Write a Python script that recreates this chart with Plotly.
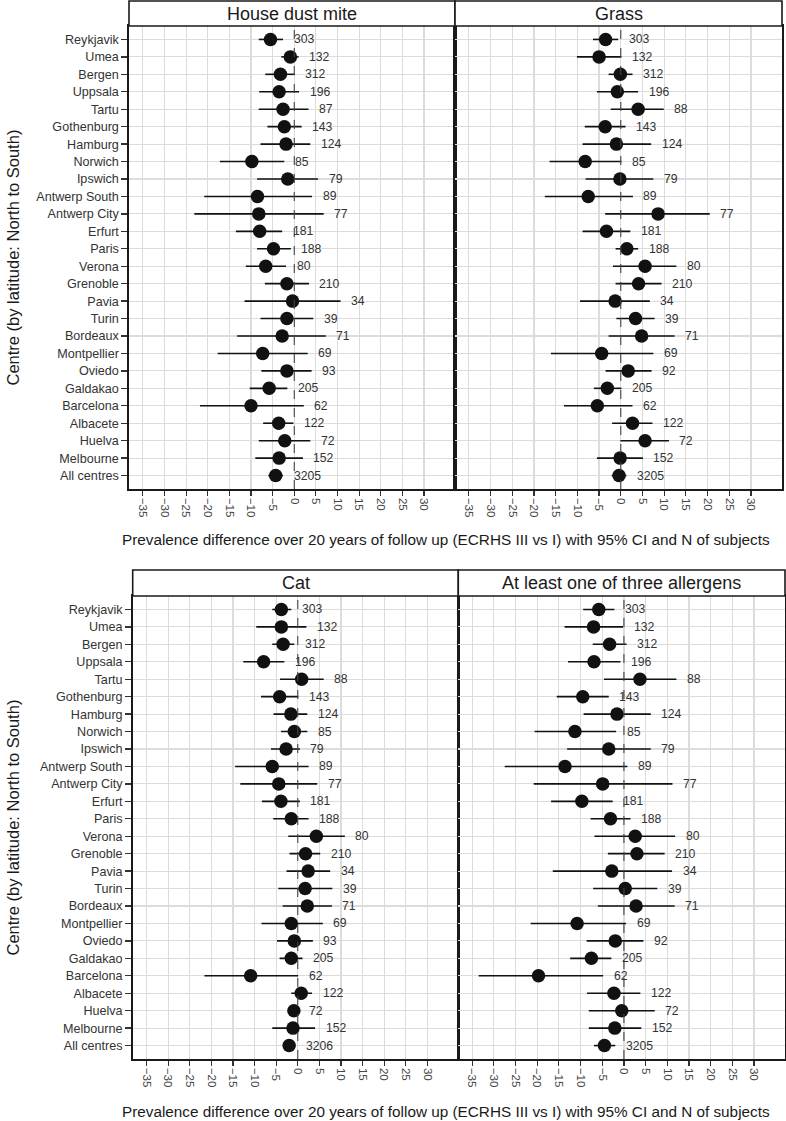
import plotly.graph_objects as go

centres = ["Reykjavik", "Umea", "Bergen", "Uppsala", "Tartu", "Gothenburg", "Hamburg",
           "Norwich", "Ipswich", "Antwerp South", "Antwerp City", "Erfurt", "Paris",
           "Verona", "Grenoble", "Pavia", "Turin", "Bordeaux", "Montpellier", "Oviedo",
           "Galdakao", "Barcelona", "Albacete", "Huelva", "Melbourne", "All centres"]

x_ticks = [-35, -30, -25, -20, -15, -10, -5, 0, 5, 10, 15, 20, 25, 30]

panel_titles = ["House dust mite", "Grass", "Cat", "At least one of three allergens"]

hdm_est = [-5.5, -0.9, -3.2, -3.5, -2.6, -2.3, -1.9, -9.8, -1.5, -8.5, -8.2, -8.0, -4.8,
           -6.6, -1.7, -0.4, -1.7, -2.8, -7.3, -1.7, -5.8, -10.0, -3.6, -2.2, -3.5, -4.3]
hdm_lo = [-8.2, -3.0, -6.7, -8.1, -8.2, -6.2, -7.8, -17.2, -8.6, -20.8, -23.1, -13.5, -8.6,
          -11.2, -6.8, -11.5, -7.8, -13.2, -17.7, -7.6, -10.3, -21.8, -7.2, -8.2, -9.0, -6.0]
hdm_hi = [-2.6, 1.0, 0.15, 1.1, 3.3, 1.7, 3.7, -2.3, 5.5, 4.1, 6.8, -2.8, -0.8,
          -1.9, 3.4, 10.7, 4.4, 7.3, 3.1, 4.0, -1.6, 2.2, -0.2, 3.7, 2.0, -2.6]
hdm_n = [303, 132, 312, 196, 87, 143, 124, 85, 79, 89, 77, 181, 188,
         80, 210, 34, 39, 71, 69, 93, 205, 62, 122, 72, 152, 3205]

grass_est = [-3.5, -5.0, -0.1, -0.8, 4.0, -3.6, -1.0, -8.2, -0.2, -7.5, 8.6, -3.3, 1.4,
             5.6, 4.1, -1.3, 3.4, 4.8, -4.4, 1.7, -3.1, -5.4, 2.7, 5.6, -0.15, -0.4]
grass_lo = [-6.4, -10.1, -2.8, -5.5, -2.3, -8.3, -8.8, -16.4, -8.1, -17.5, -3.6, -8.8, -1.2,
            -1.8, -1.2, -9.4, -1.0, -2.8, -16.1, -3.5, -6.2, -13.1, -2.0, -0.1, -5.5, -2.1]
grass_hi = [-0.6, 0.15, 2.7, 4.0, 9.9, 1.1, 7.0, 0.15, 7.5, 2.8, 20.5, 2.2, 4.0,
            12.8, 9.4, 6.7, 7.8, 12.4, 7.5, 7.1, 0.15, 2.7, 7.3, 11.1, 5.1, 1.3]
grass_n = [303, 132, 312, 196, 88, 143, 124, 85, 79, 89, 77, 181, 188,
           80, 210, 34, 39, 71, 69, 92, 205, 62, 122, 72, 152, 3205]

cat_est = [-3.8, -3.8, -3.4, -7.9, 0.9, -4.2, -1.6, -0.8, -2.7, -5.9, -4.4, -3.9, -1.5,
           4.3, 1.8, 2.4, 1.7, 2.2, -1.5, -0.8, -1.5, -10.9, 0.8, -0.9, -1.1, -2.0]
cat_lo = [-5.9, -9.6, -5.9, -12.6, -4.1, -8.5, -5.6, -3.9, -6.2, -14.5, -13.3, -8.3, -5.7,
          -2.2, -1.9, -2.6, -4.5, -3.5, -8.4, -4.8, -4.2, -21.6, -1.5, -1.9, -5.9, -3.4]
cat_hi = [-1.5, 2.0, -0.8, -3.1, 6.0, 0.15, 2.2, 2.2, 0.5, 2.5, 4.5, 0.5, 2.5,
          10.9, 5.2, 7.5, 8.0, 7.9, 5.8, 3.5, 1.1, 0.1, 3.3, 0.1, 4.0, -0.6]
cat_n = [303, 132, 312, 196, 88, 143, 124, 85, 79, 89, 77, 181, 188,
         80, 210, 34, 39, 71, 69, 93, 205, 62, 122, 72, 152, 3206]

any_est = [-5.8, -7.0, -3.3, -6.9, 3.7, -9.5, -1.6, -11.3, -3.5, -13.6, -4.9, -9.7, -3.1,
           2.6, 3.0, -2.8, 0.3, 2.8, -10.8, -2.0, -7.5, -19.7, -2.3, -0.5, -2.1, -4.5]
any_lo = [-9.4, -13.7, -7.2, -12.9, -4.6, -15.5, -9.3, -20.6, -13.1, -27.5, -20.8, -16.8, -7.7,
          -6.8, -3.7, -16.4, -7.1, -6.0, -21.5, -8.6, -12.4, -33.5, -8.5, -8.1, -8.1, -6.9]
any_hi = [-2.2, -0.2, 0.6, -0.8, 12.1, -3.5, 6.2, -1.8, 6.2, 0.8, 11.2, -2.6, 1.5,
          11.8, 9.4, 11.1, 7.7, 11.7, 0.5, 4.5, -2.9, -4.8, 3.8, 7.1, 4.0, -2.0]
any_n = [303, 132, 312, 196, 88, 143, 124, 85, 79, 89, 77, 181, 188,
         80, 210, 34, 39, 71, 69, 92, 205, 62, 122, 72, 152, 3205]

panels = [
    (hdm_est, hdm_lo, hdm_hi, hdm_n),
    (grass_est, grass_lo, grass_hi, grass_n),
    (cat_est, cat_lo, cat_hi, cat_n),
    (any_est, any_lo, any_hi, any_n),
]

W, H = 786, 1121
FONT = "Liberation Sans, Arial, sans-serif"

# pixel boxes of the four panels: (left, right, top, bottom, strip_top)
boxes = [
    (129.0, 455.0, 26.0, 489.0, 1.0),
    (455.0, 782.0, 26.0, 489.0, 1.0),
    (132.7, 458.3, 596.0, 1059.0, 570.0),
    (458.3, 785.0, 596.0, 1059.0, 570.0),
]

ypos = list(range(len(centres)))
fig = go.Figure()
layout = dict(
    width=W, height=H, margin=dict(l=0, r=0, t=0, b=0),
    paper_bgcolor="white", plot_bgcolor="white", showlegend=False,
    font=dict(family=FONT, color="#333333"),
)
shapes = []
annotations = []

for i, ((est, lo, hi, n), box, title) in enumerate(zip(panels, boxes, panel_titles)):
    k = "" if i == 0 else str(i + 1)
    xa, ya = "x" + k, "y" + k
    left, right, top, bottom, stop = box
    fig.add_trace(go.Scatter(
        x=est, y=ypos, mode="markers", xaxis=xa, yaxis=ya,
        marker=dict(size=13.5, color="#111111"),
        error_x=dict(type="data", symmetric=False,
                     array=[h - e for h, e in zip(hi, est)],
                     arrayminus=[e - l for e, l in zip(est, lo)],
                     width=0, thickness=1.6, color="#111111"),
        hoverinfo="skip",
    ))
    for yy, h, nn in zip(ypos, hi, n):
        annotations.append(dict(
            x=h, y=yy, xref=xa, yref=ya, text=str(nn), showarrow=False,
            xanchor="left", yanchor="middle", xshift=8.5,
            font=dict(size=12.2, color="#333333", family=FONT)))
    layout["xaxis" + k] = dict(
        domain=[left / W, right / W], anchor=ya, range=[-38.2, 37.15],
        tickmode="array", tickvals=x_ticks,
        ticktext=[str(v).replace("-", "\u2212") for v in x_ticks],
        tickangle=90, ticks="outside", ticklen=5, tickwidth=1.2, tickcolor="#333333",
        tickfont=dict(size=11.5, color="#444444"),
        showgrid=True, gridcolor="#dcdcdc", gridwidth=1.2, zeroline=False,
        showline=True, linecolor="#1a1a1a", linewidth=1.6, mirror=True,
    )
    layout["yaxis" + k] = dict(
        domain=[1 - bottom / H, 1 - top / H], anchor=xa, range=[25.77, -0.77],
        tickmode="array", tickvals=ypos, ticktext=centres,
        ticks="outside" if i in (0, 2) else "", ticklen=6, tickwidth=1.3,
        tickcolor="#333333", showticklabels=i in (0, 2),
        tickfont=dict(size=12.6, color="#333333"),
        showgrid=True, gridcolor="#dcdcdc", gridwidth=1.2, zeroline=False,
        showline=True, linecolor="#1a1a1a", linewidth=1.6, mirror=True,
    )
    # dashed reference line at zero
    shapes.append(dict(type="line", xref=xa, yref=ya + " domain", x0=0, x1=0, y0=0, y1=1,
                       line=dict(color="#444444", width=1.1, dash="dash")))
    # strip
    shapes.append(dict(type="rect", xref="paper", yref="paper",
                       x0=left / W, x1=right / W, y0=1 - top / H, y1=1 - stop / H,
                       fillcolor="white", line=dict(color="#1a1a1a", width=1.6)))
    annotations.append(dict(
        x=(left + right) / 2 / W, y=1 - (top + stop) / 2 / H, xref="paper", yref="paper",
        text=title, showarrow=False, xanchor="center", yanchor="middle",
        font=dict(size=18, color="#1a1a1a", family=FONT)))

xtitle = "Prevalence difference over 20 years of follow up (ECRHS III vs I) with 95% CI and N of subjects"
ytitle = "Centre (by latitude: North to South)"
for ty, cy in [(539, 257.5), (1111, 827.5)]:
    annotations.append(dict(x=446 / W, y=1 - ty / H, xref="paper", yref="paper", text=xtitle,
                            showarrow=False, xanchor="center", yanchor="middle",
                            font=dict(size=15.3, color="#1a1a1a", family=FONT)))
    annotations.append(dict(x=12 / W, y=1 - cy / H, xref="paper", yref="paper", text=ytitle,
                            showarrow=False, xanchor="center", yanchor="middle", textangle=-90,
                            font=dict(size=16.5, color="#1a1a1a", family=FONT)))

layout["shapes"] = shapes
layout["annotations"] = annotations
fig.update_layout(**layout)
fig.write_html(
    "out.html",
    config={"displayModeBar": False, "staticPlot": True},
    post_script=["document.body.style.margin='0';document.body.style.overflow='hidden';"],
)
